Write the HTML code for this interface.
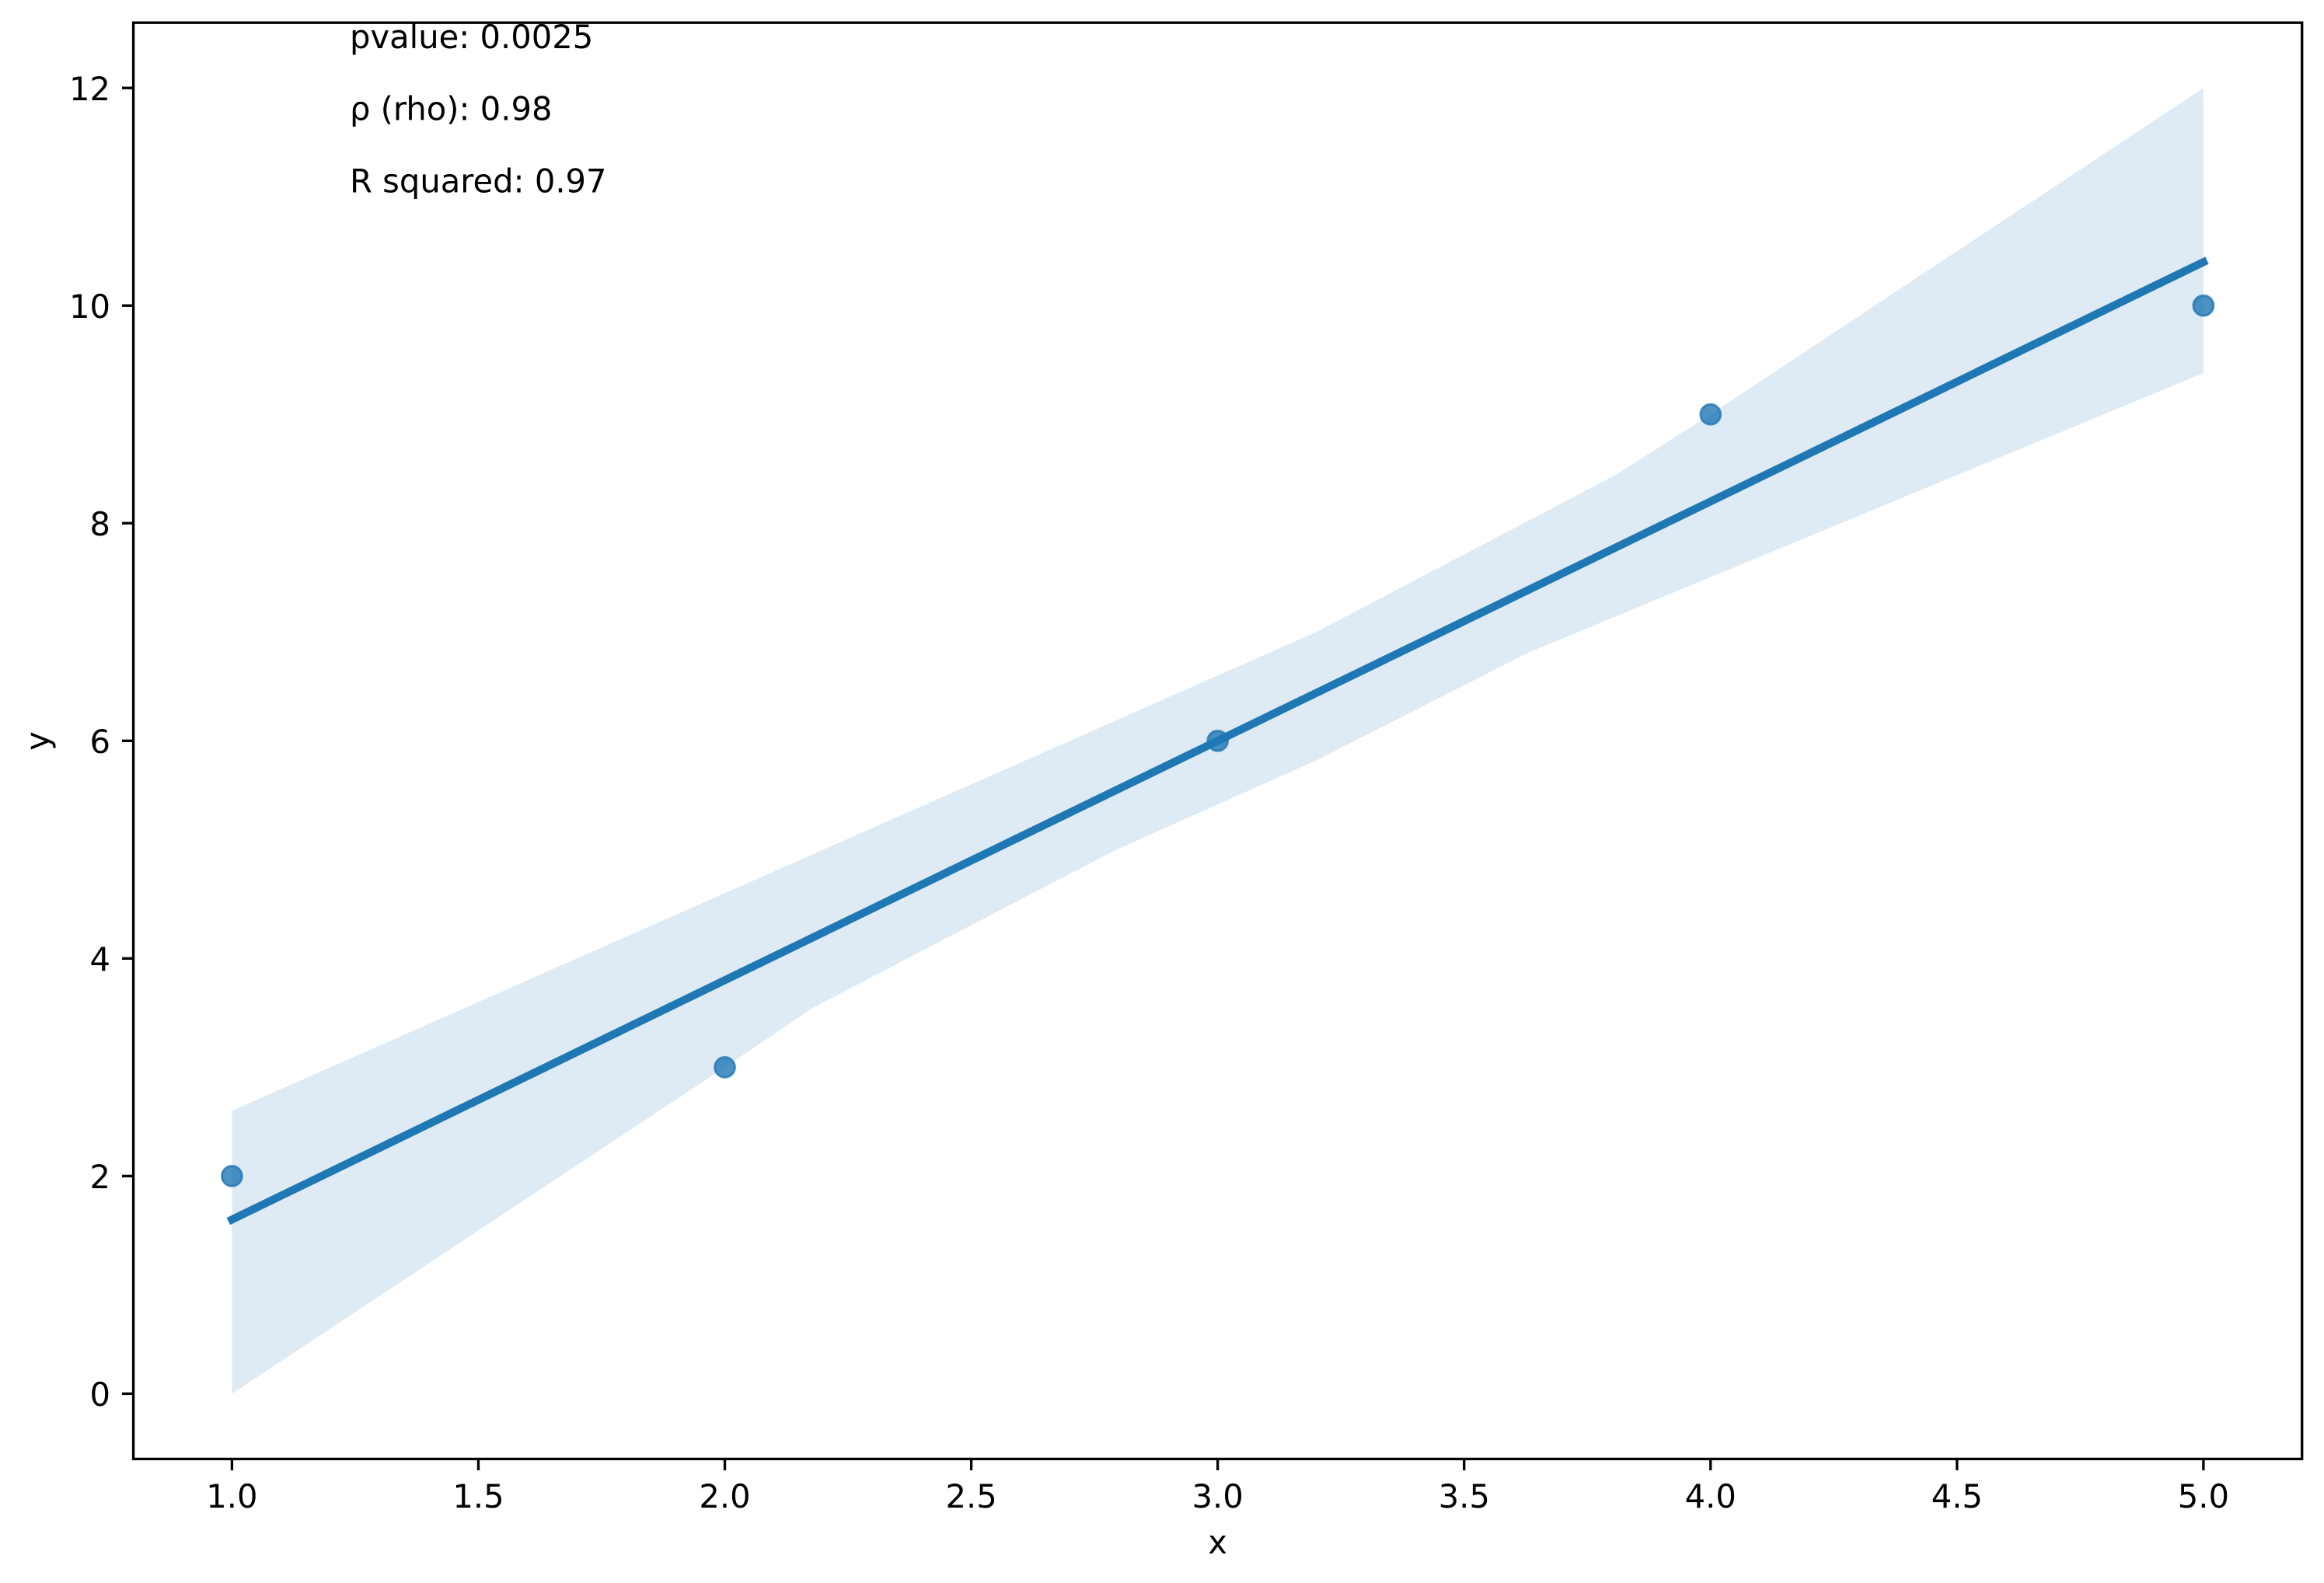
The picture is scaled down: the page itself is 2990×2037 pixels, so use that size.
<!DOCTYPE html>
<html lang="en">
<head>
<meta charset="utf-8">
<title>Regression plot</title>
<style>
html,body{margin:0;padding:0;background:#fff;width:2990px;height:2037px;overflow:hidden}
svg{display:block}
text{font-family:"DejaVu Sans","Liberation Sans",sans-serif;font-size:41.67px;fill:#000}
</style>
</head>
<body>
<svg id="chart" xmlns="http://www.w3.org/2000/svg" width="2990" height="2037" viewBox="0 0 2990 2037">
  <rect x="0" y="0" width="2990" height="2037" fill="#fff"/>
  <g id="marks"></g>
  <g id="ticks"></g>
  <rect x="171.6" y="29.2" width="2790.1" height="1848.2" fill="none" stroke="#000" stroke-width="3.33"/>
  <text x="1566.6" y="1999" text-anchor="middle">x</text>
  <text transform="translate(63 953.5) rotate(-90)" text-anchor="middle">y</text>
  <text x="450" y="62">pvalue: 0.0025</text>
  <text x="450" y="154.5">ρ (rho): 0.98</text>
  <text x="450" y="247.5">R squared: 0.97</text>
</svg>
<script>
const pointX = [1, 2, 3, 4, 5];
const pointY = [2, 3, 6, 9, 10];
const fitX = [1, 5];
const fitY = [1.6, 10.4];
const bandUpperX = [1, 3.2, 3.81, 4, 5];
const bandUpperY = [2.6, 7, 8.45, 9, 12];
const bandLowerX = [1, 2, 2.18, 2.79, 3.2, 3.63, 5];
const bandLowerY = [0, 3, 3.55, 4.99, 5.82, 6.81, 9.38];
const xTicks = [1, 1.5, 2, 2.5, 3, 3.5, 4, 4.5, 5];
const xTickLabels = ['1.0', '1.5', '2.0', '2.5', '3.0', '3.5', '4.0', '4.5', '5.0'];
const yTicks = [0, 2, 4, 6, 8, 10, 12];
const yTickLabels = ['0', '2', '4', '6', '8', '10', '12'];

const NS = 'http://www.w3.org/2000/svg';
const plotLeft = 171.6, plotRight = 2961.7, plotTop = 29.2, plotBottom = 1877.4;
const xMin = 0.8, xMax = 5.2, yMin = -0.6, yMax = 12.6;
function sx(v) { return plotLeft + (v - xMin) / (xMax - xMin) * (plotRight - plotLeft); }
function sy(v) { return plotBottom - (v - yMin) / (yMax - yMin) * (plotBottom - plotTop); }

const marks = document.getElementById('marks');
const ticks = document.getElementById('ticks');

const upperPts = bandUpperX.map((x, i) => sx(x).toFixed(2) + ',' + sy(bandUpperY[i]).toFixed(2));
const lowerPts = bandLowerX.map((x, i) => sx(x).toFixed(2) + ',' + sy(bandLowerY[i]).toFixed(2)).reverse();
const band = document.createElementNS(NS, 'polygon');


band.setAttribute('points', upperPts.concat(lowerPts).join(' '));
band.setAttribute('fill', '#1f77b4');
band.setAttribute('fill-opacity', '0.15');
marks.appendChild(band);

pointX.forEach((x, i) => {
  const c = document.createElementNS(NS, 'circle');
  
  
  c.setAttribute('cx', sx(x));
  c.setAttribute('cy', sy(pointY[i]));
  c.setAttribute('r', 12.9);
  c.setAttribute('fill', '#1f77b4');
  c.setAttribute('fill-opacity', '0.8');
  c.setAttribute('stroke', '#1f77b4');
  c.setAttribute('stroke-opacity', '0.8');
  c.setAttribute('stroke-width', 2.9);
  marks.appendChild(c);
});

const fit = document.createElementNS(NS, 'line');


fit.setAttribute('x1', sx(fitX[0]));
fit.setAttribute('y1', sy(fitY[0]));
fit.setAttribute('x2', sx(fitX[1]));
fit.setAttribute('y2', sy(fitY[1]));
fit.setAttribute('stroke', '#1f77b4');
fit.setAttribute('stroke-width', 10.2);
fit.setAttribute('stroke-linecap', 'square');
marks.appendChild(fit);

xTicks.forEach((v, i) => {
  const t = document.createElementNS(NS, 'line');
  
  
  t.setAttribute('x1', sx(v));
  t.setAttribute('x2', sx(v));
  t.setAttribute('y1', plotBottom);
  t.setAttribute('y2', plotBottom + 14.6);
  t.setAttribute('stroke', '#000');
  t.setAttribute('stroke-width', 3.33);
  ticks.appendChild(t);
  const l = document.createElementNS(NS, 'text');
  
  
  l.setAttribute('x', sx(v));
  l.setAttribute('y', 1940);
  l.setAttribute('text-anchor', 'middle');
  l.textContent = xTickLabels[i];
  ticks.appendChild(l);
});

yTicks.forEach((v, i) => {
  const t = document.createElementNS(NS, 'line');
  
  
  t.setAttribute('x1', plotLeft - 14.6);
  t.setAttribute('x2', plotLeft);
  t.setAttribute('y1', sy(v));
  t.setAttribute('y2', sy(v));
  t.setAttribute('stroke', '#000');
  t.setAttribute('stroke-width', 3.33);
  ticks.appendChild(t);
  const l = document.createElementNS(NS, 'text');
  
  
  l.setAttribute('x', 142);
  l.setAttribute('y', sy(v) + 15.6);
  l.setAttribute('text-anchor', 'end');
  l.textContent = yTickLabels[i];
  ticks.appendChild(l);
});
</script>
</body>
</html>
